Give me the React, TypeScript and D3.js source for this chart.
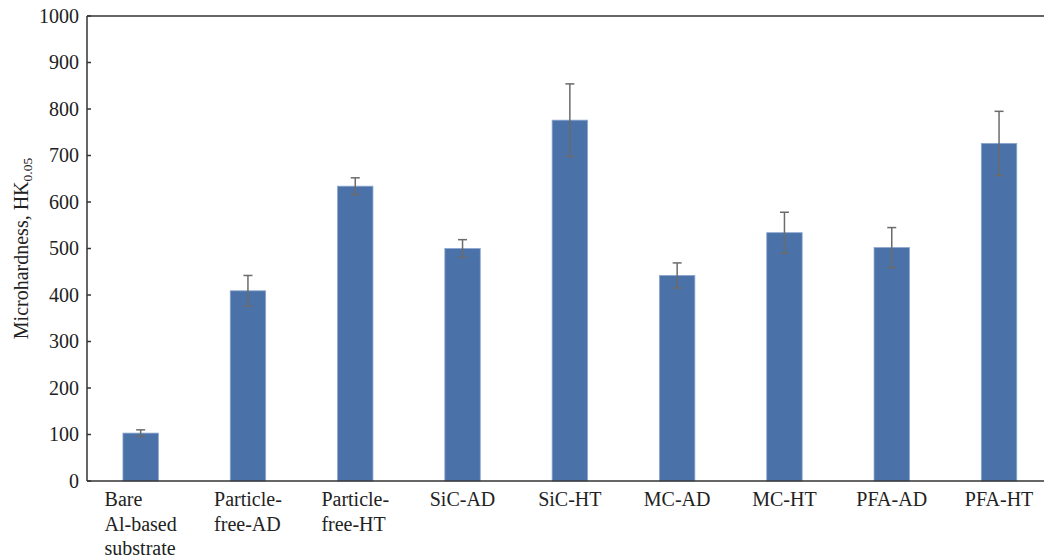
import React from 'react';
import * as d3 from 'd3';

// category labels (line breaks as in the figure)
const categories = [
  ['Bare', 'Al-based', 'substrate'],
  ['Particle-', 'free-AD'],
  ['Particle-', 'free-HT'],
  ['SiC-AD'],
  ['SiC-HT'],
  ['MC-AD'],
  ['MC-HT'],
  ['PFA-AD'],
  ['PFA-HT'],
];
const hardness = [103, 409, 634, 500, 776, 442, 534, 502, 726];
const errors = [7, 33, 18, 19, 78, 27, 44, 43, 69];
const yTicks = [0, 100, 200, 300, 400, 500, 600, 700, 800, 900, 1000];

const W = 1044;
const H = 560;
const FONT = '"Liberation Serif", "Times New Roman", serif';
const BAR = '#4a71a8';
const AXIS = '#333';

function textWidth(s: string, size: number) {
  const c = document.createElement('canvas').getContext('2d');
  if (!c) return s.length * size * 0.45;
  c.font = `${size}px ${FONT}`;
  return c.measureText(s).width;
}

export default function App() {
  const left = 87;
  const top = 16;
  const bottom = 481;
  const bandW = 107.3;

  const x = d3.scaleBand<number>()
    .domain(d3.range(categories.length))
    .range([left, left + bandW * categories.length])
    .paddingInner(0.67)
    .paddingOuter(0.335);

  const y = d3.scaleLinear().domain([0, 1000]).range([bottom, top]);

  return (
    <svg width={W} height={H} style={{ position: 'absolute', left: 0, top: 0 }}>
      <rect width={W} height={H} fill="#fff" />

      {/* bars */}
      {hardness.map((v, i) => (
        <rect
          key={i}
          x={x(i)}
          y={y(v)}
          width={x.bandwidth()}
          height={y(0) - y(v)}
          fill={BAR}
          stroke="#8aa6cf"
          strokeWidth={0.8}
        />
      ))}

      {/* error bars */}
      {hardness.map((v, i) => {
        const cx = (x(i) as number) + x.bandwidth() / 2;
        const hi = y(v + errors[i]);
        const lo = y(v - errors[i]);
        return (
          <g key={i} stroke="#6b6b6b" strokeWidth={1.5}>
            <line x1={cx} x2={cx} y1={hi} y2={lo} />
            <line x1={cx - 4.5} x2={cx + 4.5} y1={hi} y2={hi} />
            <line x1={cx - 4.5} x2={cx + 4.5} y1={lo} y2={lo} />
          </g>
        );
      })}

      {/* axes frame */}
      <line x1={left} x2={W} y1={top} y2={top} stroke={AXIS} strokeWidth={1.5} />
      <line x1={left} x2={W} y1={bottom} y2={bottom} stroke={AXIS} strokeWidth={1.5} />
      <line x1={left} x2={left} y1={top} y2={bottom} stroke={AXIS} strokeWidth={1.5} />

      {/* y ticks */}
      {yTicks.map((t) => (
        <g key={t}>
          <line x1={left} x2={left + 4} y1={y(t)} y2={y(t)} stroke={AXIS} strokeWidth={1.5} />
          <text
            x={left - 8}
            y={y(t)}
            dy="0.34em"
            textAnchor="end"
            fontFamily={FONT}
            fontSize={20}
            fill="#222"
          >
            {t}
          </text>
        </g>
      ))}

      {/* category labels */}
      {categories.map((lines, i) => {
        const cx = (x(i) as number) + x.bandwidth() / 2;
        const wMax = d3.max(lines, (s) => textWidth(s, 20)) as number;
        const x0 = lines.length > 1 ? cx - wMax / 2 : cx;
        return (
          <text
            key={i}
            x={x0}
            y={506}
            textAnchor={lines.length > 1 ? 'start' : 'middle'}
            fontFamily={FONT}
            fontSize={20}
            fill="#222"
          >
            {lines.map((s, j) => (
              <tspan key={j} x={x0} dy={j === 0 ? 0 : 24.5}>
                {s}
              </tspan>
            ))}
          </text>
        );
      })}

      {/* y title */}
      <text
        transform={`translate(28, ${(top + bottom) / 2}) rotate(-90)`}
        textAnchor="middle"
        fontFamily={FONT}
        fontSize={20}
        fill="#222"
      >
        Microhardness, HK
        <tspan fontSize={13.5} dy={4}>0.05</tspan>
      </text>
    </svg>
  );
}
